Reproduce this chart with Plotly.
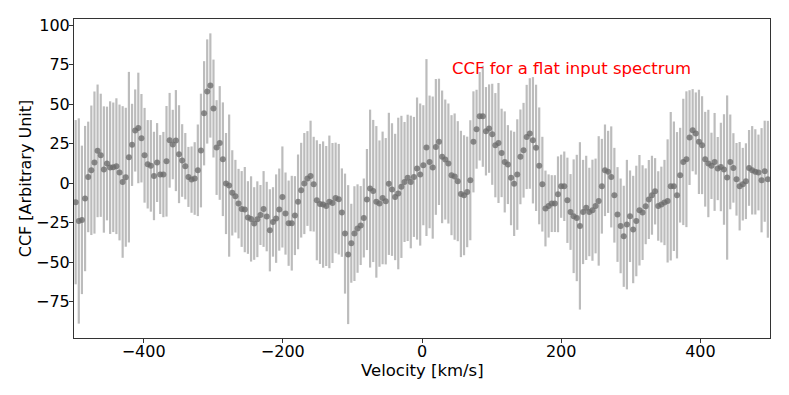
import numpy as np
from plotly import graph_objects as go

# velocity grid (km/s), first and last channel, 222 channels
v_start = -497.6
v_step = 4.5
n_chan = 222
velocity = [round(v_start + i * v_step, 1) for i in range(n_chan)]

ccf = [
    -12.0, -23.9, -23.2, -9.7, 4.0, 8.2, 13.1, 20.5, 17.7, 8.7,
    12.5, 9.9, 10.1, 10.8, 6.8, 0.8, 3.8, 16.5, 24.3, 33.4,
    35.0, 28.5, 17.7, 12.0, 11.0, 4.6, 13.1, 5.5, 5.5, 13.9,
    27.2, 24.5, 27.0, 18.4, 14.4, 10.8, 4.0, 2.3, 3.0, 8.2,
    20.7, 44.3, 58.1, 61.9, 47.3, 22.6, 25.5, 15.2, -0.2, -1.5,
    -6.1, -8.2, -12.9, -16.3, -16.7, -21.7, -22.6, -25.5, -22.8, -20.1,
    -16.3, -21.1, -29.8, -24.5, -22.4, -16.7, -8.7, -19.2, -25.3, -25.3,
    -20.5, -11.8, -4.4, -0.2, 3.0, 4.6, -0.6, -10.8, -13.1, -13.5,
    -14.4, -11.8, -12.5, -9.3, -10.1, -18.6, -31.9, -45.2, -38.0, -31.9,
    -28.7, -26.8, -22.0, -10.3, -3.4, -4.9, -11.8, -12.9, -9.3, -11.4,
    -0.4, -4.0, -8.7, -6.5, -2.3, 0.8, 3.4, 0.8, 4.0, 9.3,
    5.5, 11.4, 22.6, 13.5, 9.9, 23.0, 26.2, 16.7, 15.0, 12.5,
    5.1, 4.2, 1.3, -6.8, -7.6, -5.5, 1.9, 26.2, 34.2, 42.4,
    42.4, 32.9, 34.6, 31.0, 24.1, 25.5, 19.2, 13.5, 11.8, 3.4,
    -0.4, 5.5, 16.7, 20.9, 29.3, 31.5, 27.2, 22.4, 11.0, -0.6,
    -16.0, -14.4, -12.9, -12.9, -7.0, -1.9, -1.9, -10.8, -18.2, -20.9,
    -22.0, -27.0, -18.2, -15.6, -18.2, -17.1, -14.4, -11.2, -1.9, 8.2,
    7.2, 4.0, -7.6, -19.8, -27.0, -33.6, -26.2, -20.9, -29.3, -23.9,
    -17.1, -18.6, -14.6, -10.3, -7.6, -5.1, -14.4, -13.5, -12.2, -11.2,
    -1.9, -1.9, -7.6, 5.1, 13.5, 15.2, 28.9, 33.6, 31.5, 26.2,
    24.1, 15.2, 12.5, 11.0, 13.5, 9.3, 10.3, 8.7, 3.6, 13.5,
    9.7, 2.5, -1.9, -0.6, 1.3, 9.7, 8.2, 7.2, 6.8, 1.9,
    7.6, 2.5,
]

ccf_err = [
    52, 65, 47, 46, 35, 41, 45, 42, 39, 40,
    36, 42, 41, 43, 43, 48, 44, 54, 26, 26,
    35, 28, 30, 28, 29, 28, 25, 25, 27, 35,
    30, 22, 32, 31, 23, 21, 19, 21, 23, 29,
    36, 33, 33, 33, 31, 30, 36, 36, 32, 45,
    27, 23, 22, 24, 27, 23, 27, 23, 24, 19,
    24, 22, 26, 22, 28, 26, 32, 26, 27, 30,
    25, 30, 30, 32, 30, 35, 30, 38, 38, 40,
    38, 42, 38, 35, 35, 28, 38, 44, 25, 30,
    28, 25, 25, 32, 50, 45, 48, 40, 42, 40,
    45, 42, 40, 48, 45, 38, 40, 42, 38, 45,
    45, 38, 56, 42, 45, 43, 40, 42, 38, 38,
    38, 40, 38, 40, 38, 35, 38, 32, 25, 28,
    32, 28, 28, 32, 33, 38, 28, 32, 25, 30,
    33, 35, 30, 30, 33, 35, 40, 40, 37, 30,
    24, 20, 18, 18, 24, 20, 22, 27, 24, 36,
    40, 53, 33, 33, 28, 32, 30, 41, 30, 29,
    26, 32, 30, 30, 30, 32, 41, 29, 34, 35,
    35, 30, 24, 25, 25, 21, 22, 24, 27, 39,
    47, 41, 40, 30, 40, 43, 30, 26, 26, 33,
    31, 30, 34, 21, 31, 20, 28, 35, 52, 30,
    22, 23, 28, 23, 24, 24, 28, 27, 24, 33,
    32, 37,
]

x_ticks = [-400, -200, 0, 200, 400]
y_ticks = [-75, -50, -25, 0, 25, 50, 75, 100]

font = "DejaVu Sans, Arial, sans-serif"

fig = go.Figure()
fig.add_trace(go.Scatter(
    x=velocity, y=ccf, mode="markers",
    marker=dict(size=6, color="rgba(105,105,105,0.75)", line=dict(width=0)),
    error_y=dict(type="data", array=ccf_err, visible=True, width=0,
                 thickness=2.2, color="rgba(165,165,165,0.75)"),
    showlegend=False,
))

fig.add_annotation(x=40, y=72.5, xref="x", yref="y", text="CCF for a flat input spectrum",
                   showarrow=False, xanchor="left", yanchor="middle",
                   font=dict(family=font, size=16.5, color="red"))

# x title placed by hand, plotly's standoff puts it a few px too low
fig.add_annotation(x=0.5, y=-0.102, xref="paper", yref="paper", text="Velocity [km/s]",
                   showarrow=False, xanchor="center", yanchor="middle",
                   font=dict(family=font, size=16.5, color="black"))

axis_common = dict(showgrid=False, zeroline=False, showline=True, linecolor="#333",
                   linewidth=1, mirror=True, ticks="outside", ticklen=4, tickwidth=1,
                   tickcolor="#333", tickfont=dict(family=font, size=16, color="black"))

fig.update_xaxes(range=[-500, 500], tickvals=x_ticks, ticklabelstandoff=-5, **axis_common)
fig.update_yaxes(range=[-98, 104], tickvals=y_ticks, ticklabelstandoff=-4,
                 title=dict(text="CCF [Arbitrary Unit]", font=dict(family=font, size=16, color="black"),
                            standoff=0),
                 **axis_common)

fig.update_layout(width=789, height=395, margin=dict(l=74, r=19, t=19, b=57, autoexpand=False),
                  plot_bgcolor="white", paper_bgcolor="white", font=dict(family=font))

fig.write_html("out.html", config={"displayModeBar": False},
               post_script="document.body.style.margin='0';")
